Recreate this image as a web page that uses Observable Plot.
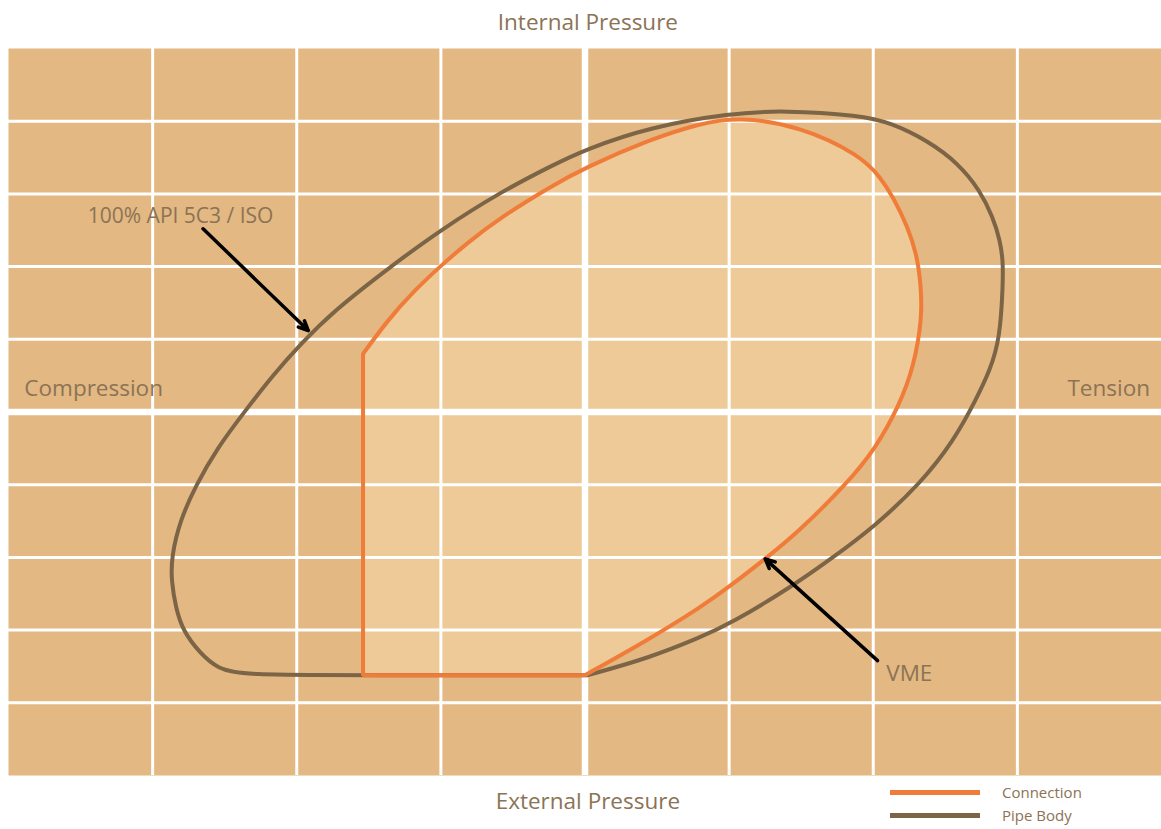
<!DOCTYPE html>
<html>
<head>
<meta charset="utf-8">
<script src="https://cdn.jsdelivr.net/npm/d3@7"></script>
<script src="https://cdn.jsdelivr.net/npm/@observablehq/plot@0.6"></script>
<style>
  html, body { margin: 0; padding: 0; background: #ffffff; }
  #wrap { position: relative; width: 1161px; height: 829px; font-family: "Open Sans", sans-serif; }
  #legend { position: absolute; left: 890px; top: 781px; font-size: 15px; color: #8b7355; line-height: 23px; }
  .item { display: flex; align-items: center; }
  .sw { width: 90px; height: 5px; margin-right: 22px; }
</style>
</head>
<body>
<div id="wrap"><div id="chart"></div><div id="legend"></div></div>
<script>
// Grid (in grid-cell units): x = axial load, y = pressure
const xGrid = [-3, -2, -1, 1, 2, 3];
const yGrid = [-4, -3, -2, -1, 1, 2, 3, 4];
const axisLines = [0];

// Pipe body envelope (100% API 5C3 / ISO) [x, y]
const pipeBody = [
  [0.02, -3.62], [0.45, -3.38], [0.80, -3.10], [1.01, -2.91], [1.43, -2.41],
  [1.72, -2.00], [2.00, -1.59], [2.33, -0.98], [2.56, -0.39], [2.71, 0.16],
  [2.81, 0.57], [2.88, 1.02], [2.90, 1.77], [2.90, 2.08], [2.88, 2.36],
  [2.83, 2.68], [2.74, 3.05], [2.59, 3.42], [2.38, 3.73], [2.12, 3.98],
  [1.91, 4.08], [1.38, 4.15], [1.01, 4.11], [0.45, 3.92], [0.00, 3.61],
  [-0.24, 3.38], [-0.59, 3.02], [-0.99, 2.52], [-1.35, 2.00], [-1.75, 1.38],
  [-1.97, 0.94], [-2.16, 0.52], [-2.36, 0.01], [-2.55, -0.49], [-2.70, -1.01],
  [-2.81, -1.49], [-2.87, -2.00], [-2.87, -2.32], [-2.84, -2.69], [-2.79, -3.01],
  [-2.67, -3.32], [-2.55, -3.53], [-2.37, -3.62], [-1.54, -3.62], [0.02, -3.62]
];

// Connection envelope (VME) curved part [x, y]
const connectionCurve = [
  [0.00, -3.62], [0.45, -3.12], [0.80, -2.69], [1.01, -2.39], [1.25, -2.02],
  [1.47, -1.67], [1.82, -0.98], [2.02, -0.49], [2.18, 0.09], [2.28, 0.61],
  [2.34, 1.30], [2.33, 1.77], [2.30, 2.18], [2.24, 2.54], [2.14, 2.95],
  [2.05, 3.23], [1.91, 3.53], [1.50, 3.93], [1.06, 4.06], [0.80, 3.97],
  [0.45, 3.75], [0.00, 3.36], [-0.24, 3.10], [-0.59, 2.67], [-0.82, 2.32],
  [-0.99, 2.03], [-1.19, 1.66], [-1.37, 1.26], [-1.54, 0.80]
];
// Connection envelope straight corners (compression limit and collapse limit)
const connectionCorners = [[-1.54, 0.80], [-1.54, -3.62], [0.00, -3.62]];

// Annotation arrows
const arrows = [
  {x1: -2.65, y1: 2.52, x2: -1.92, y2: 1.12},
  {x1: 2.03, y1: -3.42, x2: 1.25, y2: -2.02}
];

// Labels
const labels = [
  {text: "Internal Pressure", x: 0.02, y: 5.36, anchor: "middle", size: 22.5},
  {text: "External Pressure", x: 0.02, y: -5.36, anchor: "middle", size: 22.5},
  {text: "Compression", x: -3.89, y: 0.32, anchor: "start", size: 22.5},
  {text: "Tension", x: 3.92, y: 0.32, anchor: "end", size: 22.5},
  {text: "VME", x: 2.09, y: -3.60, anchor: "start", size: 22.5},
  {text: "100% API 5C3 / ISO", x: -3.45, y: 2.69, anchor: "start", size: 21}
];

const legendItems = [
  {name: "Connection", color: "#f07c3a"},
  {name: "Pipe Body", color: "#7c6446"}
];

// Outlines for a B-spline: a point repeated three times becomes a sharp corner
const triple = p => [p, p, p];
const connectionPath = [
  ...connectionCurve,
  ...triple(connectionCorners[0]).slice(1),
  ...triple(connectionCorners[1]),
  ...triple(connectionCorners[2])
];
const pipeBodyPath = [pipeBody[0], ...pipeBody];

const textColor = "#8b7355";
const textMark = (anchor, size) => Plot.text(labels, {
  filter: d => d.anchor === anchor && d.size === size,
  x: "x", y: "y", text: "text", textAnchor: anchor, fill: textColor, fontSize: size
});

const chart = Plot.plot({
  width: 1161,
  height: 829,
  marginLeft: 8,
  marginRight: 0,
  marginTop: 48,
  marginBottom: 54,
  x: {domain: [-4, 4], axis: null},
  y: {domain: [-5, 5], axis: null},
  style: {fontFamily: "'Open Sans', sans-serif", background: "#ffffff", overflow: "visible"},
  marks: [
    Plot.frame({fill: "#e3b882", stroke: null}),
    Plot.line(connectionPath, {x: d => d[0], y: d => d[1], curve: "basis", fill: "#edca97", stroke: null}),
    Plot.ruleX(xGrid, {stroke: "#ffffff", strokeWidth: 3}),
    Plot.ruleY(yGrid, {stroke: "#ffffff", strokeWidth: 3}),
    Plot.ruleX(axisLines, {stroke: "#ffffff", strokeWidth: 6.5}),
    Plot.ruleY(axisLines, {stroke: "#ffffff", strokeWidth: 6.5}),
    Plot.line(pipeBodyPath, {x: d => d[0], y: d => d[1], curve: "basis", stroke: legendItems[1].color, strokeWidth: 4}),
    Plot.line(connectionPath, {x: d => d[0], y: d => d[1], curve: "basis", stroke: legendItems[0].color, strokeWidth: 4, strokeLinejoin: "miter"}),
    Plot.arrow(arrows, {x1: "x1", y1: "y1", x2: "x2", y2: "y2", stroke: "#000000", strokeWidth: 3.5, headLength: 4.5, headAngle: 50}),
    textMark("middle", 22.5),
    textMark("start", 22.5),
    textMark("end", 22.5),
    textMark("start", 21)
  ]
});
document.getElementById("chart").appendChild(chart);

const legend = document.getElementById("legend");
for (const item of legendItems) {
  const row = document.createElement("div");
  row.className = "item";
  const sw = document.createElement("span");
  sw.className = "sw";
  sw.style.background = item.color;
  const label = document.createElement("span");
  label.textContent = item.name;
  row.appendChild(sw);
  row.appendChild(label);
  legend.appendChild(row);
}
</script>
</body>
</html>
